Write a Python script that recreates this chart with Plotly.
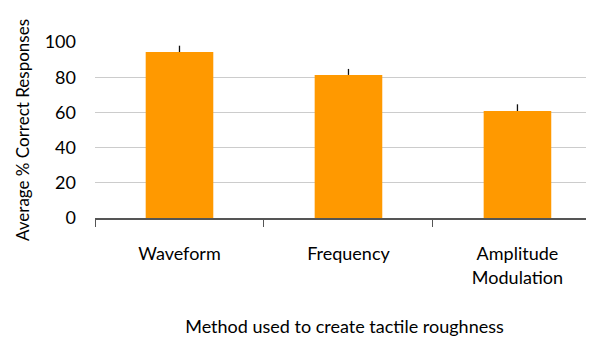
import plotly.graph_objects as go

categories = ["Waveform", "Frequency", "Amplitude Modulation"]
tick_labels = ["Waveform", "Frequency", "Amplitude<br>Modulation"]
values = [94.3, 81.3, 60.8]
errors = [3.6, 3.4, 3.8]
y_ticks = [0, 20, 40, 60, 80, 100]

FONT = "Lato, 'Open Sans', sans-serif"

fig = go.Figure(
    go.Bar(
        x=categories,
        y=values,
        width=0.4,
        marker=dict(color="#FF9900", line=dict(width=0)),
        error_y=dict(type="data", symmetric=False, array=errors, arrayminus=[0, 0, 0],
                     color="#111111", thickness=1.3, width=0),
    )
)

fig.update_layout(
    width=586, height=335,
    margin=dict(l=87, r=0, t=34, b=125),
    paper_bgcolor="white", plot_bgcolor="white",
    font=dict(family=FONT, size=16, color="black"),
    showlegend=False,
    bargap=0.6,
)
fig.update_xaxes(
    type="category",
    automargin=False,
    range=[-0.5, 2.453],
    tickmode="array", tickvals=categories, ticktext=tick_labels,
    tickfont=dict(size=18),
    tickson="boundaries", ticks="outside", ticklen=7, tickcolor="#555555", tickwidth=1,
    showline=True, linecolor="#555555", linewidth=1.5,
    showgrid=False,
    ticklabelstandoff=19,
    title=dict(text="Method used to create tactile roughness", standoff=34, font=dict(size=18)),
)
fig.update_yaxes(
    automargin=False,
    range=[0, 100],
    tickvals=y_ticks,
    tickfont=dict(size=18),
    showgrid=True, gridcolor="#cccccc", gridwidth=1,
    showline=False, zeroline=False, ticks="",
    ticklabelstandoff=18,
    title=dict(text="Average % Correct Responses", standoff=10, font=dict(size=17)),
)

fig.write_html("out.html")
